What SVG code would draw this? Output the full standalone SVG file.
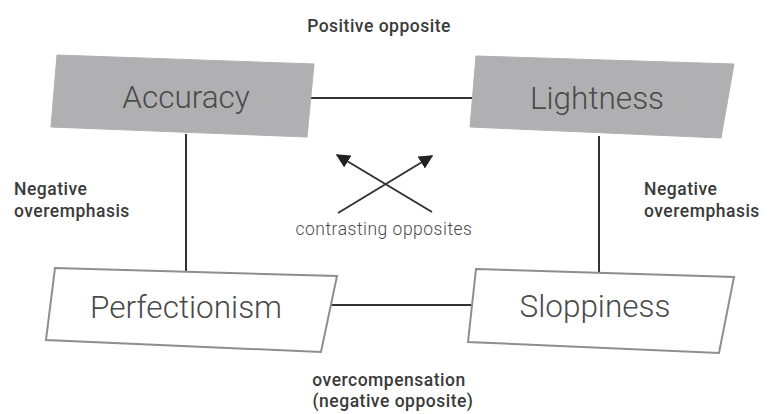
<svg xmlns="http://www.w3.org/2000/svg" width="774" height="414" viewBox="0 0 774 414">
<style>
.bg{fill:#ffffff}
.dark{fill:#b0b0b3;stroke:#b0b0b3;stroke-width:1}
.light{fill:#ffffff;stroke:#8e8e91;stroke-width:2}
.nt{font-family:Roboto,"Liberation Sans",sans-serif;font-weight:300;font-size:31.5px;fill:#4a4a4a;text-anchor:middle}
.lbl{font-family:Roboto,"Liberation Sans",sans-serif;font-weight:500;font-size:17.5px;letter-spacing:0.5px;fill:#3a3a3a}
.sm{font-family:Roboto,"Liberation Sans",sans-serif;font-weight:300;font-size:17.5px;letter-spacing:0.5px;fill:#4a4a4a;text-anchor:middle}
.conn{stroke:#333333;stroke-width:2;fill:none}
</style>
<defs>
<marker id="ah" viewBox="0 0 10 10" refX="9" refY="5" markerWidth="7" markerHeight="7" orient="auto" markerUnits="strokeWidth">
<path d="M0,0 L10,5 L0,10 z" fill="#222222"/>
</marker>
</defs>
<rect class="bg" width="774" height="414"/>
<g id="connectors">
<line class="conn" x1="307" y1="98" x2="472" y2="98"/>
<line class="conn" x1="186" y1="134" x2="186" y2="271"/>
<line class="conn" x1="599" y1="136" x2="599" y2="272"/>
<line class="conn" x1="331" y1="305" x2="472" y2="305"/>
<line class="conn" x1="338" y1="213" x2="432" y2="156" marker-end="url(#ah)"/>
<line class="conn" x1="432" y1="212" x2="337" y2="155" marker-end="url(#ah)"/>
</g>
<g id="accuracy">
<polygon class="dark" points="57,55 314,64 307,137 51,127"/>
<text class="nt" x="186" y="108">Accuracy</text>
</g>
<g id="lightness">
<polygon class="dark" points="476,56 734,64 721,138 470,127"/>
<text class="nt" x="597" y="109">Lightness</text>
</g>
<g id="perfectionism">
<polygon class="light" points="55,268 337,276 321,352 46,340"/>
<text class="nt" x="186" y="318">Perfectionism</text>
</g>
<g id="sloppiness">
<polygon class="light" points="476,269 734,277 719,353 468,342"/>
<text class="nt" x="595" y="317">Sloppiness</text>
</g>
<g id="labels">
<text class="lbl" x="379" y="32" text-anchor="middle">Positive opposite</text>
<text class="lbl" x="14" y="195">Negative</text>
<text class="lbl" x="14" y="217">overemphasis</text>
<text class="lbl" x="644" y="195">Negative</text>
<text class="lbl" x="644" y="217">overemphasis</text>
<text class="sm" x="384" y="235">contrasting opposites</text>
<text class="lbl" x="389" y="386" text-anchor="middle">overcompensation</text>
<text class="lbl" x="393" y="407" text-anchor="middle">(negative opposite)</text>
</g>
</svg>
